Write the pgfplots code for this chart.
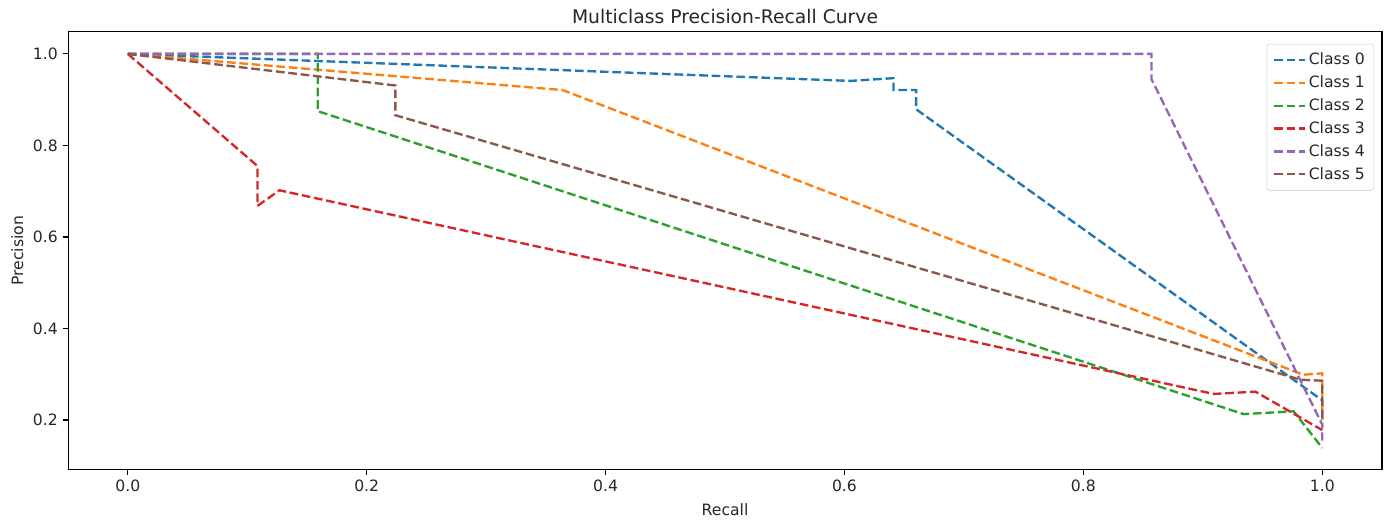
\documentclass[border=0pt]{standalone}
\usepackage{fontspec}
\setmainfont{DejaVu Sans}
\usepackage{pgfplots}
\pgfplotsset{compat=1.18}
\definecolor{c0}{HTML}{1F77B4}
\definecolor{c1}{HTML}{FF7F0E}
\definecolor{c2}{HTML}{2CA02C}
\definecolor{c3}{HTML}{D62728}
\definecolor{c4}{HTML}{9467BD}
\definecolor{c5}{HTML}{8C564B}
\begin{document}
\begin{tikzpicture}
\begin{axis}[
  scale only axis, width=946pt, height=315pt,
  xmin=-0.05, xmax=1.05, ymin=0.092, ymax=1.048,
  xtick={0,0.2,0.4,0.6,0.8,1.0},
  ytick={0.2,0.4,0.6,0.8,1.0},
  tick align=outside, xtick pos=left, ytick pos=left,
  major tick length=3.9pt,
  every tick/.style={black, line width=0.8pt},
  axis line style={line width=0.8pt},
  /pgf/number format/assume math mode=true,
  xticklabel style={/pgf/number format/.cd, fixed, fixed zerofill, precision=1},
  yticklabel style={/pgf/number format/.cd, fixed, fixed zerofill, precision=1},
  tick label style={font=\fontsize{11.25}{13}\selectfont, text=black!85},
  label style={font=\fontsize{11.25}{13}\selectfont, text=black!85},
  xlabel={Recall}, ylabel={Precision},
  xlabel style={yshift=-2pt},
  title={Multiclass Precision-Recall Curve},
  title style={font=\fontsize{13.5}{16}\selectfont, text=black!85, yshift=-4pt},
  legend style={at={(0.994,0.973)}, anchor=north east, draw=black!20, rounded corners=2pt,
    font=\fontsize{11.25}{13}\selectfont, text=black!85, row sep=2.4pt, inner sep=4.5pt},
  legend cell align=left,
  every axis plot/.append style={line width=1.7pt, dash pattern=on 6.25pt off 2.7pt},
  legend image code/.code={\draw[#1] (0pt,0pt) -- (22pt,0pt);},
]
\coordinate (sw) at (rel axis cs:0,0);
\coordinate (ne) at (rel axis cs:1,1);
% Class 0
\addplot[c0] coordinates {(0,1.0) (0.605,0.941) (0.641,0.947) (0.641,0.921) (0.660,0.921) (0.660,0.879) (1.0,0.243) (1.0,0.185)};
\addlegendentry{Class 0}
% Class 1
\addplot[c1] coordinates {(0,1.0) (0.364,0.921) (0.984,0.299) (1.0,0.302) (1.0,0.20)};
\addlegendentry{Class 1}
% Class 2
\addplot[c2] coordinates {(0,1.0) (0.159,1.0) (0.159,0.875) (0.934,0.213) (0.976,0.219) (1.0,0.139)};
\addlegendentry{Class 2}
% Class 3
\addplot[c3] coordinates {(0,1.0) (0.1086,0.755) (0.1086,0.668) (0.127,0.702) (0.909,0.257) (0.944,0.262) (1.0,0.178)};
\addlegendentry{Class 3}
% Class 4
\addplot[c4] coordinates {(0,1.0) (0.857,1.0) (0.857,0.945) (1.0,0.19) (1.0,0.155)};
\addlegendentry{Class 4}
% Class 5
\addplot[c5] coordinates {(0,1.0) (0.224,0.931) (0.224,0.866) (0.982,0.288) (1.0,0.286) (1.0,0.20)};
\addlegendentry{Class 5}
\end{axis}
\pgfresetboundingbox
\path ([shift={(-49pt,-36.7pt)}]sw) rectangle ([shift={(3.6pt,23pt)}]ne);
\end{tikzpicture}
\end{document}
